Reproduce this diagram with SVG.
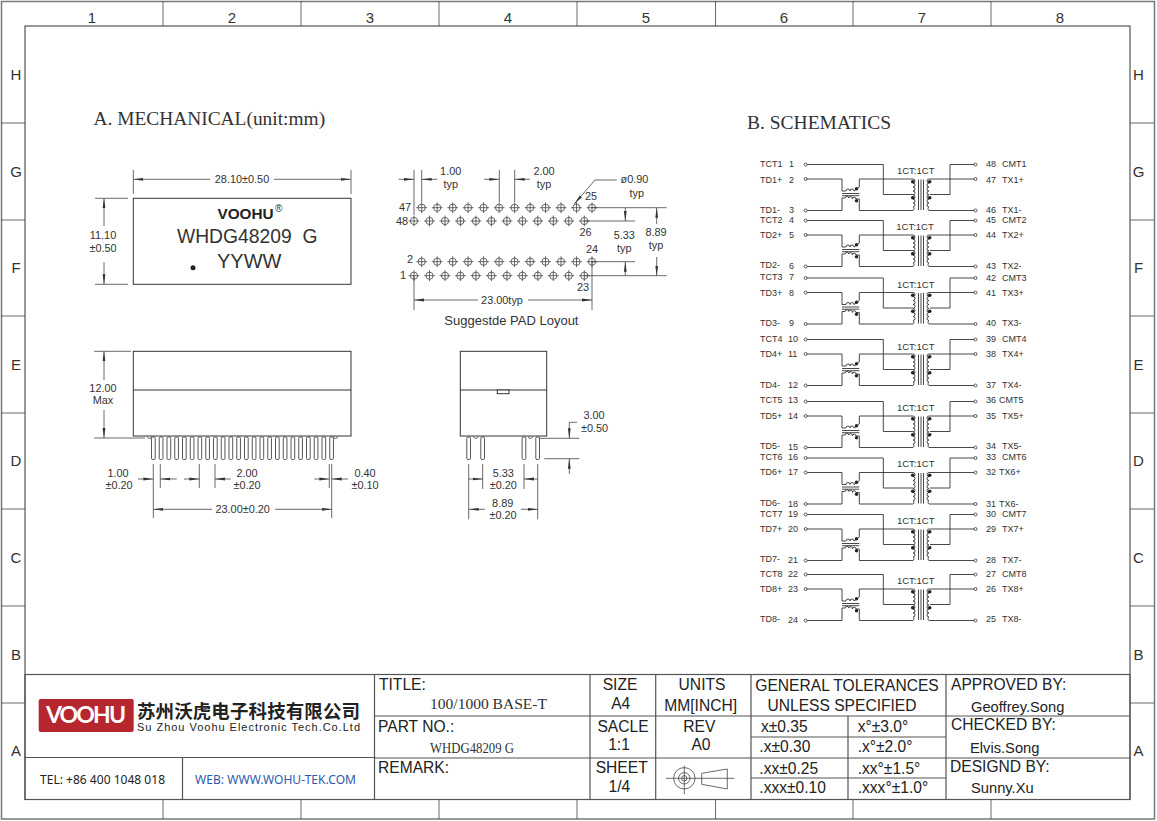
<svg xmlns="http://www.w3.org/2000/svg" width="1157" height="821" viewBox="0 0 1157 821">
<style>
text{font-family:"Liberation Sans",Arial,sans-serif;fill:#222}
.f{fill:none;stroke:#333;stroke-width:1}
.d{fill:none;stroke:#444;stroke-width:.8}
.dm{fill:none;stroke:#444;stroke-width:.8;marker-end:url(#ah)}
.o{fill:#fff;stroke:#333;stroke-width:1}
.tb{fill:none;stroke:#555;stroke-width:1.2}
.g{font-size:15px;fill:#333}
.c{text-anchor:middle}
.m{font-size:10.900px;fill:#333}
.s{font-size:9px;fill:#333}
.ct{font-size:9.500px;fill:#333;text-anchor:middle}
.t{font-size:15.600px;fill:#222}
.n{font-size:14.700px;fill:#222}
.w{fill:none;stroke:#333;stroke-width:.9}
.k{fill:#222}
</style>
<defs>
<marker id="ah" markerUnits="userSpaceOnUse" markerWidth="10" markerHeight="4" viewBox="0 -2 10 4" refX="10" refY="0" orient="auto"><path d="M0 -1.4L10 0L0 1.4z" fill="#333"/></marker>
<g id="pad"><circle r="3.6" fill="#fff" stroke="#444" stroke-width=".8"/><path d="M-5.4 0H5.4M0 -5.4V5.4" stroke="#444" stroke-width=".8"/></g>
<rect id="pin" width="3.7" height="22.5" rx="1.2" fill="#fff" stroke="#444" stroke-width=".9"/>
<g id="cell">
<path class="w" d="M807 -14.5H883.3V15.5H913"/>
<path class="w" d="M807 0H842V12H846a2 2 0 0 1 4 0a2 2 0 0 1 4 0q2 -1 5.300 -4V0H913a2 2 0 0 1 0 4a2 2 0 0 1 0 4a2 2 0 0 1 0 4a2 2 0 0 1 0 4a2 2 0 0 1 0 4a2 2 0 0 1 0 4a2 2 0 0 1 0 4a2 2 0 0 1 0 3.500H859.300V20H856a1.800 1.800 0 0 0 -3.600 0a1.800 1.800 0 0 0 -3.600 -1a1.800 1.800 0 0 0 -3.600 0H842V31.500H807"/>
<path class="w" d="M842 14.500H859.300M842 16.700H859.300M918.500 0.500V31M921 0.500V31M923.500 0.500V31"/>
<path class="w" d="M975 0H929a2 2 0 0 0 0 4a2 2 0 0 0 0 4a2 2 0 0 0 0 4a2 2 0 0 0 0 4a2 2 0 0 0 0 4a2 2 0 0 0 0 4a2 2 0 0 0 0 4a2 2 0 0 0 0 3.500H975"/>
<path class="w" d="M930 15.500H950V-14.500H975"/>
<circle class="k" cx="856.500" cy="9.800" r="1.700"/><circle class="k" cx="856.500" cy="21.700" r="1.700"/>
<circle class="k" cx="912.700" cy="2.700" r="1.800"/><circle class="k" cx="912.700" cy="18.700" r="1.800"/>
<circle class="k" cx="929.700" cy="2.700" r="1.800"/><circle class="k" cx="929.700" cy="18.700" r="1.800"/>
<g fill="#fff" stroke="#333" stroke-width=".8"><circle cx="805.700" cy="-14.500" r="1.500"/><circle cx="805.700" cy="0" r="1.500"/><circle cx="805.700" cy="31.500" r="1.500"/><circle cx="975.500" cy="-14.500" r="1.500"/><circle cx="975.500" cy="0" r="1.500"/><circle cx="975.500" cy="31.500" r="1.500"/></g>
</g>
</defs>
<rect width="1157" height="821" fill="#fff"/>

<g id="frame">
<rect x="1.500" y="1.500" width="1153" height="817.500" fill="none" stroke="#777" stroke-width="1.500"/>
<rect x="25" y="26" width="1105" height="773.500" class="f"/>
<path class="d" stroke="#555" d="M163 1V26M301 1V26M439 1V26M577 1V26M715.500 1V26M853 1V26M991 1V26M163 799.500V819M301 799.500V819M439 799.500V819M577 799.500V819M715.500 799.500V819M853 799.500V819M991 799.500V819M1 123H25M1 220H25M1 316H25M1 413H25M1 509H25M1 606H25M1 703H25M1130 123H1154M1130 220H1154M1130 316H1154M1130 413H1154M1130 509H1154M1130 606H1154M1130 703H1154"/>
<g text-anchor="middle">
<text class="g" x="92" y="23">1</text><text class="g" x="232" y="23">2</text><text class="g" x="370" y="23">3</text><text class="g" x="508" y="23">4</text><text class="g" x="646" y="23">5</text><text class="g" x="784" y="23">6</text><text class="g" x="922" y="23">7</text><text class="g" x="1060" y="23">8</text>
<text class="g" x="16" y="80">H</text><text class="g" x="16" y="177">G</text><text class="g" x="16" y="273">F</text><text class="g" x="16" y="370">E</text><text class="g" x="16" y="466">D</text><text class="g" x="16" y="563">C</text><text class="g" x="16" y="660">B</text><text class="g" x="16" y="756">A</text>
<text class="g" x="1138.500" y="80">H</text><text class="g" x="1138.500" y="177">G</text><text class="g" x="1138.500" y="273">F</text><text class="g" x="1138.500" y="370">E</text><text class="g" x="1138.500" y="466">D</text><text class="g" x="1138.500" y="563">C</text><text class="g" x="1138.500" y="660">B</text><text class="g" x="1138.500" y="756">A</text>
</g>
</g>

<text x="93.500" y="125" style="font-family:'Liberation Serif',serif;font-size:19.400px;fill:#333">A. MECHANICAL(unit:mm)</text>
<text x="747" y="129" style="font-family:'Liberation Serif',serif;font-size:19.500px;fill:#333">B. SCHEMATICS</text>

<g id="top-view">
<rect x="133.300" y="198.300" width="217.700" height="86" class="f"/>
<path class="d" d="M133.300 170V194M351 170V194M95 198.300H128M95 284.300H128"/>
<path class="dm" d="M210 179.300H133.300"/><path class="dm" d="M274 179.300H351"/>
<path class="dm" d="M104 226V198.300"/><path class="dm" d="M104 262V284.300"/>
<text class="m c" x="242" y="183">28.10±0.50</text>
<text class="m c" x="103" y="239">11.10</text><text class="m c" x="103" y="252">±0.50</text>
<text x="217.500" y="219.300" style="font-size:15.300px;font-weight:bold">VOOHU</text>
<text x="275" y="212" style="font-size:10px;fill:#333">®</text>
<text x="177" y="243" style="font-size:19.300px;fill:#333" xml:space="preserve">WHDG48209  G</text>
<text x="217" y="267.700" style="font-size:20px;fill:#333">YYWW</text>
<circle cx="193" cy="267.700" r="2.500" fill="#222"/>
</g>

<g id="pad-layout">
<g id="pads-a">
<use href="#pad" x="421.700" y="207.700"/><use href="#pad" x="437.200" y="207.700"/><use href="#pad" x="452.700" y="207.700"/><use href="#pad" x="468.100" y="207.700"/><use href="#pad" x="483.600" y="207.700"/><use href="#pad" x="499.100" y="207.700"/><use href="#pad" x="514.600" y="207.700"/><use href="#pad" x="530.100" y="207.700"/><use href="#pad" x="545.500" y="207.700"/><use href="#pad" x="561" y="207.700"/><use href="#pad" x="576.500" y="207.700"/><use href="#pad" x="592" y="207.700"/>
<use href="#pad" x="414" y="221"/><use href="#pad" x="429.500" y="221"/><use href="#pad" x="445" y="221"/><use href="#pad" x="460.400" y="221"/><use href="#pad" x="475.900" y="221"/><use href="#pad" x="491.400" y="221"/><use href="#pad" x="506.900" y="221"/><use href="#pad" x="522.400" y="221"/><use href="#pad" x="537.800" y="221"/><use href="#pad" x="553.300" y="221"/><use href="#pad" x="568.800" y="221"/><use href="#pad" x="584.300" y="221"/>
<use href="#pad" x="421.700" y="261.700"/><use href="#pad" x="437.200" y="261.700"/><use href="#pad" x="452.700" y="261.700"/><use href="#pad" x="468.100" y="261.700"/><use href="#pad" x="483.600" y="261.700"/><use href="#pad" x="499.100" y="261.700"/><use href="#pad" x="514.600" y="261.700"/><use href="#pad" x="530.100" y="261.700"/><use href="#pad" x="545.500" y="261.700"/><use href="#pad" x="561" y="261.700"/><use href="#pad" x="576.500" y="261.700"/><use href="#pad" x="592" y="261.700"/>
<use href="#pad" x="414" y="275.700"/><use href="#pad" x="429.500" y="275.700"/><use href="#pad" x="445" y="275.700"/><use href="#pad" x="460.400" y="275.700"/><use href="#pad" x="475.900" y="275.700"/><use href="#pad" x="491.400" y="275.700"/><use href="#pad" x="506.900" y="275.700"/><use href="#pad" x="522.400" y="275.700"/><use href="#pad" x="537.800" y="275.700"/><use href="#pad" x="553.300" y="275.700"/><use href="#pad" x="568.800" y="275.700"/><use href="#pad" x="584.300" y="275.700"/>
</g>
<path class="d" d="M414 170V215M421.700 170V202M499.300 170V202M514.700 170V202M592 207.700H666.700M584.300 221H635M592 261.700H635M584.300 275.700H666.700M414 275.700V310M592 261.700V310M616.700 180H595"/>
<path class="dm" d="M398.700 179.300H414"/><path class="dm" d="M437.300 179.300H421.700"/><path class="dm" d="M484 179.300H499.300"/><path class="dm" d="M530 179.300H514.700"/>
<path class="dm" d="M595 180L574.300 204"/>
<path class="dm" d="M625.300 207.700V221"/><path class="dm" d="M625.300 275.700V261.700"/>
<path class="dm" d="M656.700 224V207.700"/><path class="dm" d="M656.700 257V275.700"/>
<path class="dm" d="M478 300H414"/><path class="dm" d="M528 300H592"/>
<text class="m c" x="450.700" y="175">1.00</text><text class="m c" x="450.700" y="188">typ</text>
<text class="m c" x="544" y="175">2.00</text><text class="m c" x="544" y="188">typ</text>
<text class="m" x="620.500" y="182.700">ø0.90</text><text class="m c" x="636.700" y="196.700">typ</text>
<text class="m" x="585" y="200">25</text><text class="m" x="399" y="211">47</text><text class="m" x="396" y="225">48</text><text class="m" x="579.500" y="235.700">26</text><text class="m" x="586" y="252.700">24</text><text class="m" x="407" y="262.700">2</text><text class="m" x="400" y="279">1</text><text class="m" x="577" y="291">23</text>
<text class="m c" x="624.300" y="239">5.33</text><text class="m c" x="624.300" y="252.300">typ</text>
<text class="m c" x="656" y="235.700">8.89</text><text class="m c" x="656" y="249">typ</text>
<text class="m c" x="502" y="304">23.00typ</text>
<text x="444.300" y="325" style="font-size:13px;fill:#333">Suggestde PAD Loyout</text>
</g>

<g id="front-view">
<use href="#pin" x="151.500" y="437"/><use href="#pin" x="159.250" y="437"/><use href="#pin" x="167" y="437"/><use href="#pin" x="174.750" y="437"/><use href="#pin" x="182.500" y="437"/><use href="#pin" x="190.250" y="437"/><use href="#pin" x="198" y="437"/><use href="#pin" x="205.750" y="437"/><use href="#pin" x="213.500" y="437"/><use href="#pin" x="221.250" y="437"/><use href="#pin" x="229" y="437"/><use href="#pin" x="236.750" y="437"/><use href="#pin" x="244.500" y="437"/><use href="#pin" x="252.250" y="437"/><use href="#pin" x="260" y="437"/><use href="#pin" x="267.750" y="437"/><use href="#pin" x="275.500" y="437"/><use href="#pin" x="283.250" y="437"/><use href="#pin" x="291" y="437"/><use href="#pin" x="298.750" y="437"/><use href="#pin" x="306.500" y="437"/><use href="#pin" x="314.250" y="437"/><use href="#pin" x="322" y="437"/><use href="#pin" x="329.750" y="437"/>
<path class="d" d="M147.500 436.500a2 2 0 0 0 4 0M333.500 436.500a2 2 0 0 0 4 0"/>
<rect x="133.300" y="351.300" width="217.700" height="84.700" class="o"/>
<path class="f" d="M133.300 390H351"/>
<path class="d" d="M94 351.300H131M94 438H145M153.300 464V518M160.300 464V488M199.300 464V488M215 464V488M329.300 464V488M331.700 464V518"/>
<path class="dm" d="M104 380V351.300"/><path class="dm" d="M104 410V438"/>
<path class="dm" d="M138 479H153.300"/><path class="dm" d="M176.700 479H160.300"/><path class="dm" d="M184 479H199.300"/><path class="dm" d="M230.700 479H215"/><path class="dm" d="M314.300 479H329.300"/><path class="dm" d="M348 479H331.700"/>
<path class="dm" d="M212 509.300H153.300"/><path class="dm" d="M275 509.300H331.700"/>
<text class="m c" x="103" y="391.700">12.00</text><text class="m c" x="103" y="404.300">Max</text>
<text class="m c" x="118" y="476.700">1.00</text><text class="m c" x="119" y="489">±0.20</text>
<text class="m c" x="247" y="476.700">2.00</text><text class="m c" x="247" y="489">±0.20</text>
<text class="m c" x="365" y="476.700">0.40</text><text class="m c" x="365" y="489">±0.10</text>
<text class="m c" x="242.700" y="512.700">23.00±0.20</text>
</g>

<g id="side-view">
<use href="#pin" x="466.800" y="437"/><use href="#pin" x="480.800" y="437"/><use href="#pin" x="522.100" y="437"/><use href="#pin" x="535.800" y="437"/>
<path class="d" d="M473.700 436.500a2 2 0 0 0 4 0M528.300 436.500a2 2 0 0 0 4 0"/>
<rect x="460.300" y="351.300" width="86.400" height="84.700" class="o"/>
<path class="f" d="M460.300 390H546.700"/>
<rect x="497.300" y="390" width="11.700" height="3.700" class="o"/>
<path class="d" d="M539 438.300H579.300M544.300 458.700H579.300M577 422.300H569.300M468.700 464V519.300M482.700 464V489M524 464V489M537.700 464V519.300"/>
<path class="dm" d="M569.300 422.300V438.300"/><path class="dm" d="M569.300 474V458.700"/>
<path class="dm" d="M468.700 479H482.700"/><path class="dm" d="M537.700 479H524"/>
<path class="dm" d="M485 509.300H468.700"/><path class="dm" d="M521 509.300H537.700"/>
<text class="m c" x="594" y="419.300">3.00</text><text class="m c" x="594.500" y="432">±0.50</text>
<text class="m c" x="503.300" y="476.700">5.33</text><text class="m c" x="503.300" y="489">±0.20</text>
<text class="m c" x="502.700" y="506.700">8.89</text><text class="m c" x="503" y="519.300">±0.20</text>
</g>

<g id="schematic">
<use href="#cell" y="179"/><use href="#cell" y="235"/><use href="#cell" y="292.500"/><use href="#cell" y="354"/><use href="#cell" y="416"/><use href="#cell" y="472.500"/><use href="#cell" y="529"/><use href="#cell" y="589"/>
<text class="ct" x="915.700" y="174">1CT:1CT</text><text class="ct" x="915" y="229.500">1CT:1CT</text><text class="ct" x="915.700" y="287.500">1CT:1CT</text><text class="ct" x="915.700" y="349.500">1CT:1CT</text><text class="ct" x="915.700" y="410.500">1CT:1CT</text><text class="ct" x="915.700" y="466.500">1CT:1CT</text><text class="ct" x="915.700" y="523.500">1CT:1CT</text><text class="ct" x="915.700" y="583.500">1CT:1CT</text>
<text class="s" x="760" y="167">TCT1</text><text class="s" x="789" y="167">1</text><text class="s" x="760" y="183">TD1+</text><text class="s" x="789" y="183">2</text><text class="s" x="760" y="213">TD1-</text><text class="s" x="789" y="213">3</text>
<text class="s" x="760" y="223">TCT2</text><text class="s" x="789" y="223">4</text><text class="s" x="760" y="238">TD2+</text><text class="s" x="789" y="238">5</text><text class="s" x="760" y="268">TD2-</text><text class="s" x="789" y="269">6</text>
<text class="s" x="760" y="280">TCT3</text><text class="s" x="789" y="280">7</text><text class="s" x="760" y="296">TD3+</text><text class="s" x="789" y="296">8</text><text class="s" x="760" y="326">TD3-</text><text class="s" x="789" y="326">9</text>
<text class="s" x="760" y="342">TCT4</text><text class="s" x="788" y="342">10</text><text class="s" x="760" y="357">TD4+</text><text class="s" x="788" y="357">11</text><text class="s" x="760" y="388">TD4-</text><text class="s" x="788" y="388">12</text>
<text class="s" x="760" y="403">TCT5</text><text class="s" x="788" y="403">13</text><text class="s" x="760" y="419">TD5+</text><text class="s" x="788" y="419">14</text><text class="s" x="760" y="449">TD5-</text><text class="s" x="788" y="450">15</text>
<text class="s" x="760" y="460">TCT6</text><text class="s" x="788" y="460">16</text><text class="s" x="760" y="475">TD6+</text><text class="s" x="788" y="475">17</text><text class="s" x="760" y="506">TD6-</text><text class="s" x="788" y="507">18</text>
<text class="s" x="760" y="517">TCT7</text><text class="s" x="788" y="517">19</text><text class="s" x="760" y="532">TD7+</text><text class="s" x="788" y="532">20</text><text class="s" x="760" y="562">TD7-</text><text class="s" x="788" y="563">21</text>
<text class="s" x="760" y="577">TCT8</text><text class="s" x="788" y="577">22</text><text class="s" x="760" y="592">TD8+</text><text class="s" x="788" y="592">23</text><text class="s" x="760" y="622">TD8-</text><text class="s" x="788" y="623">24</text>
<text class="s" x="986" y="167">48</text><text class="s" x="1002" y="167">CMT1</text><text class="s" x="986" y="183">47</text><text class="s" x="1002" y="183">TX1+</text><text class="s" x="986" y="213">46</text><text class="s" x="1002" y="213">TX1-</text>
<text class="s" x="986" y="223">45</text><text class="s" x="1002" y="223">CMT2</text><text class="s" x="986" y="238">44</text><text class="s" x="1002" y="238">TX2+</text><text class="s" x="986" y="269">43</text><text class="s" x="1002" y="269">TX2-</text>
<text class="s" x="986" y="281">42</text><text class="s" x="1002" y="281">CMT3</text><text class="s" x="986" y="296">41</text><text class="s" x="1002" y="296">TX3+</text><text class="s" x="986" y="326">40</text><text class="s" x="1002" y="326">TX3-</text>
<text class="s" x="986" y="342">39</text><text class="s" x="1002" y="342">CMT4</text><text class="s" x="986" y="357">38</text><text class="s" x="1002" y="357">TX4+</text><text class="s" x="986" y="388">37</text><text class="s" x="1002" y="388">TX4-</text>
<text class="s" x="986" y="403">36</text><text class="s" x="999" y="403">CMT5</text><text class="s" x="986" y="419">35</text><text class="s" x="1002" y="419">TX5+</text><text class="s" x="986" y="449">34</text><text class="s" x="1002" y="449">TX5-</text>
<text class="s" x="986" y="460">33</text><text class="s" x="1002" y="460">CMT6</text><text class="s" x="986" y="475">32</text><text class="s" x="999" y="475">TX6+</text><text class="s" x="986" y="507">31</text><text class="s" x="999" y="507">TX6-</text>
<text class="s" x="986" y="517">30</text><text class="s" x="1002" y="517">CMT7</text><text class="s" x="986" y="532">29</text><text class="s" x="1002" y="532">TX7+</text><text class="s" x="986" y="563">28</text><text class="s" x="1002" y="563">TX7-</text>
<text class="s" x="986" y="577">27</text><text class="s" x="1002" y="577">CMT8</text><text class="s" x="986" y="592">26</text><text class="s" x="1002" y="592">TX8+</text><text class="s" x="986" y="622">25</text><text class="s" x="1002" y="622">TX8-</text>
</g>

<g id="title-block">
<rect x="25" y="674.500" width="1105" height="125" class="tb"/>
<path class="tb" d="M25 757.500H374.500M182.500 757.500V799.500M374.500 674.500V799.500M374.500 716H590M374.500 758H590M590 674.500V799.500M590 716H1130M590 758H1130M655.700 674.500V799.500M751 674.500V799.500M848 716V799.500M751 737H946M751 778H946M946 674.500V799.500"/>
<rect x="38.700" y="699" width="95" height="33" rx="2" fill="#b5262f"/>
<text x="46" y="723.300" textLength="80" style="font-family:Lato,sans-serif;font-size:23px;font-weight:bold;fill:#fff">VOOHU</text>
<text x="137" y="717.500" textLength="223" style="font-family:'Noto Sans CJK SC',sans-serif;font-size:18.500px;font-weight:bold;fill:#222">苏州沃虎电子科技有限公司</text>
<text x="137" y="730.500" textLength="223" style="font-size:11px;fill:#222">Su Zhou Voohu Electronic Tech.Co.Ltd</text>
<text x="40" y="784" textLength="125" style="font-family:'Noto Sans',sans-serif;font-size:12px">TEL: +86 400 1048 018</text>
<text x="195" y="784" textLength="161" style="font-family:'Noto Sans',sans-serif;font-size:12px;fill:#2d5aa8">WEB: WWW.WOHU-TEK.COM</text>
<text class="t" x="379" y="690">TITLE:</text>
<text x="430" y="709" textLength="117" lengthAdjust="spacingAndGlyphs" style="font-family:'Liberation Serif',serif;font-size:14.500px;fill:#333">100/1000 BASE-T</text>
<text class="t" x="378" y="731.700">PART NO.:</text>
<text x="430" y="753.300" textLength="84" lengthAdjust="spacingAndGlyphs" style="font-family:'Liberation Serif',serif;font-size:14px;fill:#333">WHDG48209 G</text>
<text class="t" x="378" y="772.700">REMARK:</text>
<text class="t c" x="620" y="690">SIZE</text><text class="t c" x="620.700" y="709.300">A4</text>
<text class="t c" x="702" y="690">UNITS</text><text class="t c" x="700.700" y="710.700">MM[INCH]</text>
<text class="t c" x="847" y="690.700">GENERAL TOLERANCES</text><text class="t c" x="842" y="710.700">UNLESS SPECIFIED</text>
<text class="t c" x="623" y="732.300">SACLE</text><text class="t c" x="619" y="750">1:1</text>
<text class="t c" x="699.300" y="731.700">REV</text><text class="t c" x="701" y="750">A0</text>
<text class="t c" x="621.700" y="772.700">SHEET</text><text class="t c" x="619.300" y="792.300">1/4</text>
<text class="t" x="761" y="732.300">x±0.35</text><text class="t" x="857.700" y="732.300">x°±3.0°</text>
<text class="t" x="759.300" y="752.300">.x±0.30</text><text class="t" x="857.700" y="752.300">.x°±2.0°</text>
<text class="t" x="759.300" y="774">.xx±0.25</text><text class="t" x="857.700" y="774">.xx°±1.5°</text>
<text class="t" x="759.300" y="793.300">.xxx±0.10</text><text class="t" x="857.700" y="793.300">.xxx°±1.0°</text>
<g class="d"><circle cx="684.300" cy="778.300" r="10.700"/><circle cx="684.300" cy="778.300" r="5.700"/><circle cx="684.300" cy="778.300" r="2.700"/><path d="M666 778.300H734.300M684.300 765.700V794M701.700 773.300L727.300 769V789L701.700 784.300Z"/></g>
<text class="t" x="951" y="690">APPROVED BY:</text><text class="n" x="971" y="712">Geoffrey.Song</text>
<text class="t" x="951" y="730">CHECKED BY:</text><text class="n" x="970" y="753">Elvis.Song</text>
<text class="t" x="950" y="772">DESIGND BY:</text><text class="n" x="971" y="793">Sunny.Xu</text>
</g>
</svg>
